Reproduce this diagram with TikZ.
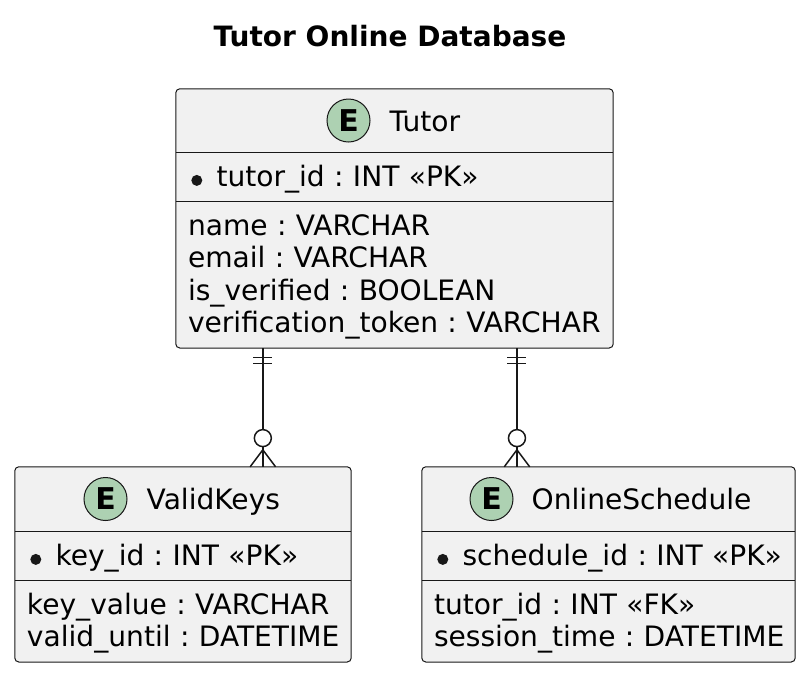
\documentclass[tikz,border=0pt]{standalone}
\usepackage{fontspec}
\setmainfont{DejaVu Sans}
\usetikzlibrary{positioning, calc, backgrounds}
\definecolor{boxfill}{RGB}{241,241,241}
\definecolor{boxline}{RGB}{24,24,24}
\definecolor{spotfill}{RGB}{173,209,178}
\frenchspacing
\newcommand{\entfont}{\fontsize{28.1}{32.5}\selectfont}
\newcommand{\attrstrut}{\rule[-7pt]{0pt}{32.5pt}}
\newcommand{\pkgap}{\hspace*{28.5pt}}

\begin{document}
\begin{tikzpicture}[x=1pt, y=-1pt, node distance=0pt]
  \tikzstyle{head} = [inner sep=0pt, minimum height=63pt]
  \tikzstyle{pk} = [anchor=north west, inner xsep=12pt, inner ysep=0pt,
      minimum height=49pt, align=left, font=\entfont]
  \tikzstyle{attr} = [anchor=north west, inner xsep=12pt, inner ysep=0pt,
      align=left, font=\entfont]
  \tikzstyle{spot} = [circle, draw=boxline, fill=spotfill, line width=1pt,
      minimum size=43pt, inner sep=0pt, font=\fontsize{30}{30}\selectfont\bfseries]
  \tikzstyle{ename} = [inner sep=0pt, text height=21pt, text depth=0pt, font=\entfont]
  \tikzstyle{box} = [draw=boxline, fill=boxfill, line width=1pt, rounded corners=4pt]
  \tikzstyle{sep} = [draw=boxline, line width=1pt]
  \tikzstyle{sepkey} = [draw=boxline, line width=1.6pt]
  \tikzstyle{line} = [draw=boxline, line width=1.5pt]
  \tikzstyle{dot} = [fill=boxline]
  \useasboundingbox (0,0) rectangle (807,673);
      % Title
      \node [anchor=base, font=\fontsize{28}{28}\selectfont\bfseries] (title) at (390,46) {Tutor Online Database};
      % Place nodes
      \node [head, minimum width=437pt] (tutor) at (394.5,120.5) {};
      \node [spot] (tutorE) at ([xshift=-46pt]tutor.center) {E};
      \node [ename, right=19pt of tutorE] (tutorname) {Tutor};
      \node [pk, text width=423pt] (tutorpk) at (tutor.south west) {\attrstrut\pkgap tutor\_id : INT «PK»};
      \node [attr, text width=423pt, minimum height=146pt] (tutorattr) at (tutorpk.south west)
          {\attrstrut name : VARCHAR\\ \attrstrut email : VARCHAR\\
           \attrstrut is\_verified : BOOLEAN\\ \attrstrut verification\_token : VARCHAR};

      \node [head, minimum width=336pt, minimum height=64pt] (keys) at (183,499) {};
      \node [spot] (keysE) at ([xshift=-77.5pt]keys.center) {E};
      \node [ename, right=19pt of keysE] (keysname) {ValidKeys};
      \node [pk, text width=322pt] (keyspk) at (keys.south west) {\attrstrut\pkgap key\_id : INT «PK»};
      \node [attr, text width=322pt, minimum height=81pt] (keysattr) at (keyspk.south west)
          {\attrstrut key\_value : VARCHAR\\ \attrstrut valid\_until : DATETIME};

      \node [head, minimum width=373pt, minimum height=64pt] (sched) at (608.5,499) {};
      \node [spot] (schedE) at ([xshift=-117pt]sched.center) {E};
      \node [ename, right=18pt of schedE] (schedname) {OnlineSchedule};
      \node [pk, text width=359pt] (schedpk) at (sched.south west) {\attrstrut\pkgap schedule\_id : INT «PK»};
      \node [attr, text width=359pt, minimum height=81pt] (schedattr) at (schedpk.south west)
          {\attrstrut tutor\_id : INT «FK»\\ \attrstrut session\_time : DATETIME};

  % boxes
  \begin{scope}[on background layer]
      \path [box] (tutor.north west) rectangle (tutorattr.south -| tutor.east);
      \path [box] (keys.north west) rectangle (keysattr.south -| keys.east);
      \path [box] (sched.north west) rectangle (schedattr.south -| sched.east);
  \end{scope}
      \path [sep] (tutor.south west) -- (tutor.south east);
      \path [sepkey] (tutorpk.south west) -- (tutorpk.south -| tutor.east);
      \path [sep] (keys.south west) -- (keys.south east);
      \path [sepkey] (keyspk.south west) -- (keyspk.south -| keys.east);
      \path [sep] (sched.south west) -- (sched.south east);
      \path [sepkey] (schedpk.south west) -- (schedpk.south -| sched.east);
      % key bullets
      \path [dot] ([xshift=21pt,yshift=-3.5pt]tutorpk.west) circle (5.5pt);
      \path [dot] ([xshift=21pt,yshift=-3.5pt]keyspk.west) circle (5.5pt);
      \path [dot] ([xshift=21pt,yshift=-3.5pt]schedpk.west) circle (5.5pt);

  %paths
      \coordinate (tk) at ($(tutor.west |- tutorattr.south)!0.199!(tutor.east |- tutorattr.south)$);
      \coordinate (kt) at (tk |- keys.north);
      \coordinate (ts) at ($(tutor.west |- tutorattr.south)!0.780!(tutor.east |- tutorattr.south)$);
      \coordinate (st) at (ts |- sched.north);

      \path [line] (tk) -- (kt);
      \path [line] ([xshift=-9.5pt,yshift=-9.7pt]tk) -- ([xshift=9.5pt,yshift=-9.7pt]tk);
      \path [line] ([xshift=-9.5pt,yshift=-15.7pt]tk) -- ([xshift=9.5pt,yshift=-15.7pt]tk);
      \path [line, fill=white] ([yshift=28.7pt]kt) circle (8.5pt);
      \path [line] ([xshift=-12.7pt]kt) -- ([yshift=17pt]kt) -- ([xshift=12.7pt]kt);

      \path [line] (ts) -- (st);
      \path [line] ([xshift=-9.5pt,yshift=-9.7pt]ts) -- ([xshift=9.5pt,yshift=-9.7pt]ts);
      \path [line] ([xshift=-9.5pt,yshift=-15.7pt]ts) -- ([xshift=9.5pt,yshift=-15.7pt]ts);
      \path [line, fill=white] ([yshift=28.7pt]st) circle (8.5pt);
      \path [line] ([xshift=-12.7pt]st) -- ([yshift=17pt]st) -- ([xshift=12.7pt]st);

  \end{tikzpicture}
\end{document}
